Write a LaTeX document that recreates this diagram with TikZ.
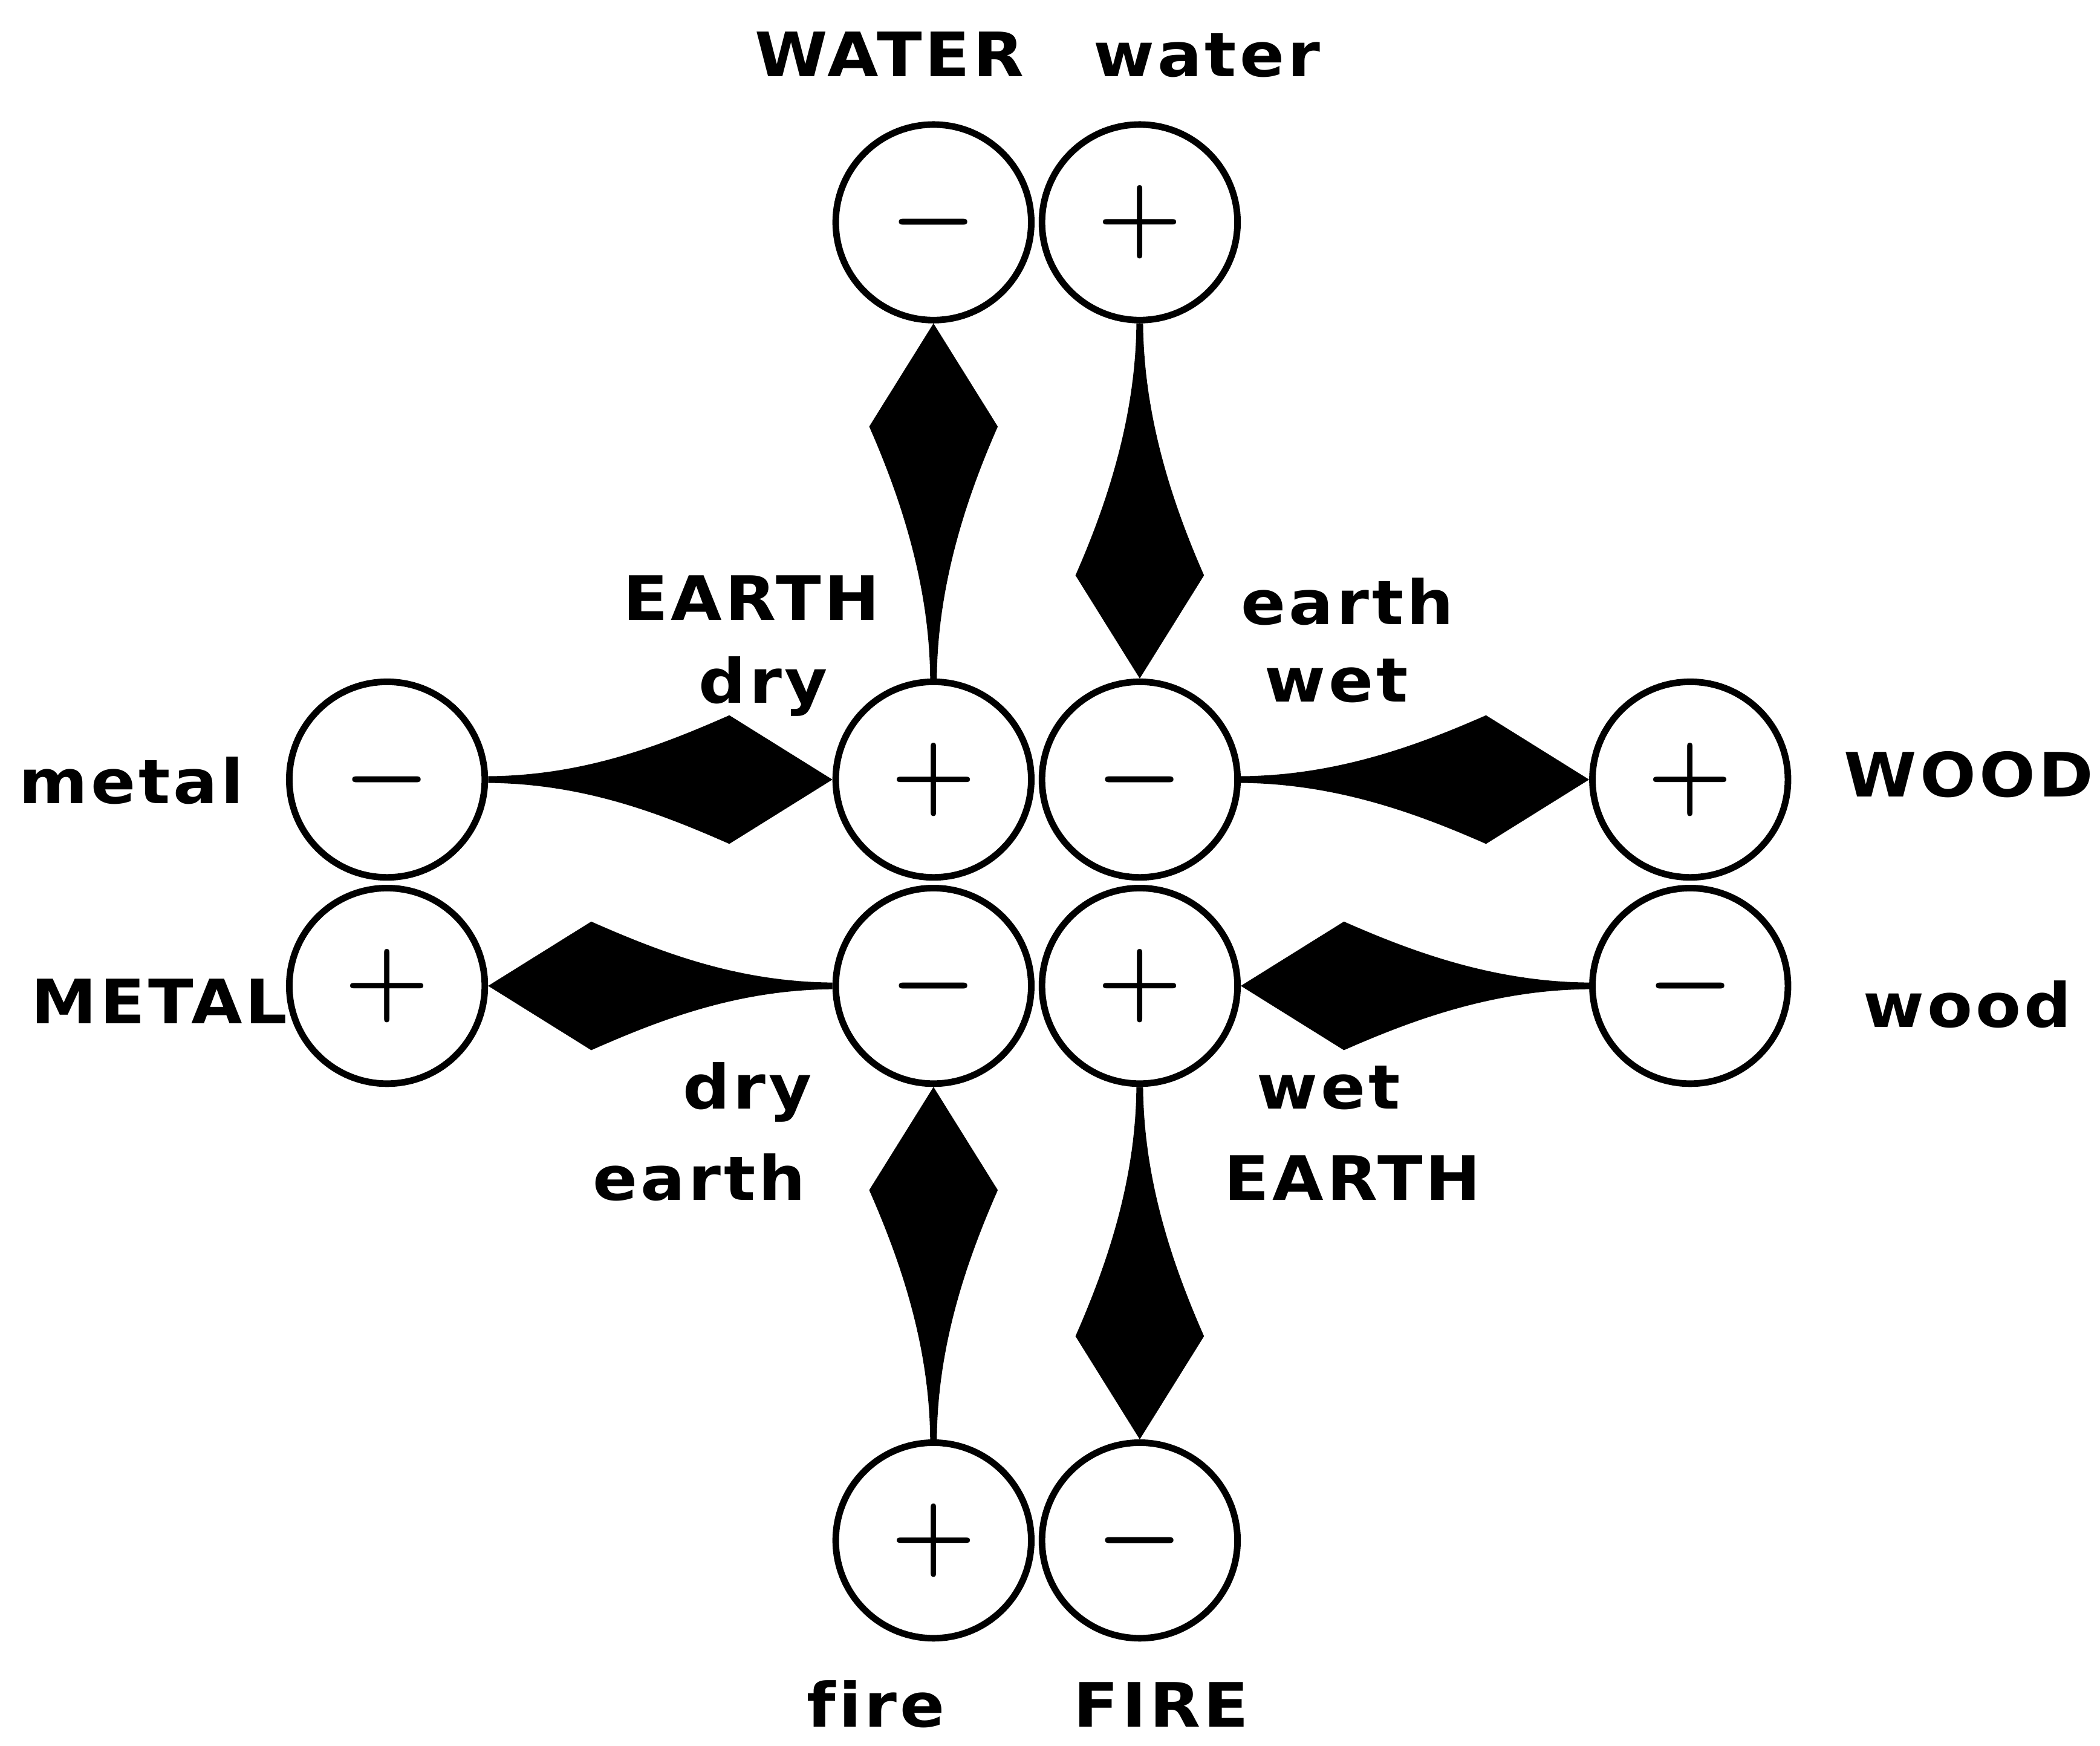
\documentclass[tikz,border=0pt]{standalone}
\usepackage{fontspec}
\usetikzlibrary{calc}
\newfontfamily\handfont[FakeStretch=1.08,LetterSpace=5,Ligatures=NoCommon]{DejaVu Sans Bold}

% filled kite from tail (#1) to tip (#2)
\newcommand{\kite}[2]{%
  \fill (#2)
    -- ($($(#2)!0.77cm!(#1)$)!0.48cm!90:(#1)$)
    .. controls ($($(#2)!1.27cm!(#1)$)!0.26cm!90:(#1)$)
            and ($($(#1)!0.72cm!(#2)$)!0.03cm!-90:(#2)$)
    .. ($(#1)!0.025cm!-90:(#2)$)
    -- ($(#1)!0.025cm!90:(#2)$)
    .. controls ($($(#1)!0.72cm!(#2)$)!0.03cm!90:(#2)$)
            and ($($(#2)!1.27cm!(#1)$)!0.26cm!-90:(#1)$)
    .. ($($(#2)!0.77cm!(#1)$)!0.48cm!-90:(#1)$)
    -- cycle;}

\begin{document}
\begin{tikzpicture}[
        pole/.style={draw, circle, line width=1.4pt, minimum size=1.46cm, inner sep=0pt, font=\fontsize{22}{22}\selectfont\boldmath},
        lbl/.style={anchor=base, inner sep=0pt, font=\handfont\fontsize{13}{15}\selectfont}
    ]
        \useasboundingbox (0,0) rectangle (15.68,13.03);

        % poles
        \node[pole] (w1) at (6.97,11.37) {$-$};
        \node[pole] (w2) at (8.51,11.37) {$+$};
        \node[pole] (e1) at (6.97,7.21) {$+$};
        \node[pole] (e2) at (8.51,7.21) {$-$};
        \node[pole] (e3) at (6.97,5.67) {$-$};
        \node[pole] (e4) at (8.51,5.67) {$+$};
        \node[pole] (m1) at (2.89,7.21) {$-$};
        \node[pole] (m2) at (2.89,5.67) {$+$};
        \node[pole] (d1) at (12.62,7.21) {$+$};
        \node[pole] (d2) at (12.62,5.67) {$-$};
        \node[pole] (f1) at (6.97,1.53) {$+$};
        \node[pole] (f2) at (8.51,1.53) {$-$};

        % kites
        \kite{e1.north}{w1.south}
        \kite{w2.south}{e2.north}
        \kite{m1.east}{e1.west}
        \kite{e2.east}{d1.west}
        \kite{e3.west}{m2.east}
        \kite{d2.west}{e4.east}
        \kite{f1.north}{e3.south}
        \kite{e4.south}{f2.north}

        % labels
        \node[lbl] (lwaterA) at (6.64,12.46) {WATER};
        \node[lbl] (lwaterB) at (9.01,12.46) {water};
        \node[lbl] (learthA) at (5.61,8.40) {EARTH};
        \node[lbl] (ldryA) at (5.70,7.78) {dry};
        \node[lbl] (learthB) at (10.06,8.37) {earth};
        \node[lbl] (lwetA) at (9.98,7.79) {wet};
        \node[lbl] (lmetalA) at (0.98,7.03) {metal};
        \node[lbl] (lwoodA) at (14.70,7.08) {WOOD};
        \node[lbl] (lmetalB) at (1.19,5.39) {METAL};
        \node[lbl] (lwoodB) at (14.69,5.36) {wood};
        \node[lbl] (ldryB) at (5.58,4.75) {dry};
        \node[lbl] (learthC) at (5.22,4.07) {earth};
        \node[lbl] (lwetB) at (9.92,4.75) {wet};
        \node[lbl] (learthD) at (10.10,4.07) {EARTH};
        \node[lbl] (lfireA) at (6.54,0.14) {fire};
        \node[lbl] (lfireB) at (8.67,0.14) {FIRE};
    \end{tikzpicture}
\end{document}
